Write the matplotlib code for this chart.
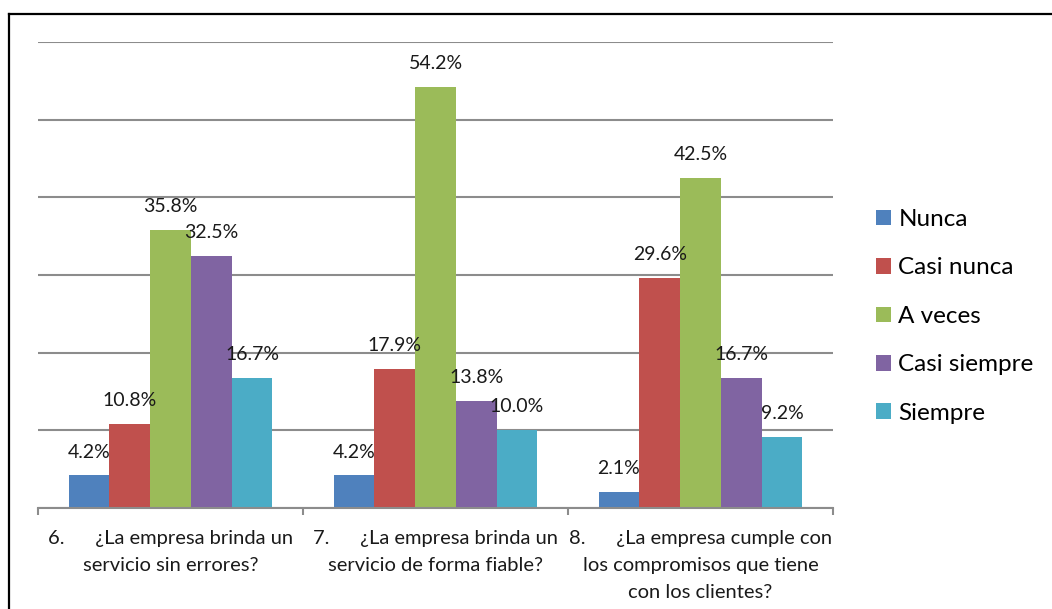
import matplotlib
matplotlib.use("Agg")
import matplotlib.pyplot as plt
import numpy as np
from matplotlib.lines import Line2D
from matplotlib.patches import Patch

plt.rcParams['font.family'] = ['Lato', 'DejaVu Sans']

categories = [
    "6.      ¿La empresa brinda un\nservicio sin errores?",
    "7.      ¿La empresa brinda un\nservicio de forma fiable?",
    "8.      ¿La empresa cumple con\nlos compromisos que tiene\ncon los clientes?",
]
series_names = ["Nunca", "Casi nunca", "A veces", "Casi siempre", "Siempre"]
nunca = [4.2, 4.2, 2.1]
casi_nunca = [10.8, 17.9, 29.6]
a_veces = [35.8, 54.2, 42.5]
casi_siempre = [32.5, 13.8, 16.7]
siempre = [16.7, 10.0, 9.2]
series_values = [nunca, casi_nunca, a_veces, casi_siempre, siempre]
colors = ["#4F81BD", "#C0504D", "#9BBB59", "#8064A2", "#4BACC6"]

fig = plt.figure(figsize=(10.52, 6.09), dpi=100)
ax = fig.add_axes([38 / 1052, 1 - 508 / 609, (833 - 38) / 1052, (508 - 42) / 609])

x = np.arange(len(categories))
n = len(series_names)
bar_w = 1 / (n + 1.5)
for i, (name, vals, col) in enumerate(zip(series_names, series_values, colors)):
    pos = x + (i - (n - 1) / 2) * bar_w
    ax.bar(pos, vals, width=bar_w, color=col, label=name, zorder=3)
    for xb, v in zip(pos, vals):
        ax.annotate(f"{v:.1f}%", (xb, v), xytext=(0, 16.8), textcoords="offset points",
                    ha="center", va="center", fontsize=14, color="#1a1a1a", zorder=4)

ax.set_xlim(-0.5, len(categories) - 0.5)
ax.set_ylim(0, 60)
ax.set_yticks(np.arange(0, 61, 10))
ax.yaxis.grid(True, color="#8c8c8c", linewidth=1.5, zorder=0)
ax.tick_params(axis="y", left=False, labelleft=False)
for s in ["top", "right", "left"]:
    ax.spines[s].set_visible(False)
ax.spines["bottom"].set_color("#8c8c8c")
ax.spines["bottom"].set_linewidth(1.5)
ax.spines["bottom"].set_zorder(5)

ax.set_xticks(x)
ax.set_xticklabels(categories, fontsize=14.5, linespacing=1.7, color="#1a1a1a")
ax.tick_params(axis="x", which="major", length=0, pad=16)
ax.set_xticks(np.arange(-0.5, len(categories), 1.0), minor=True)
ax.tick_params(axis="x", which="minor", length=5, width=1.5, color="#8c8c8c")

handles = [Patch(facecolor=c, edgecolor="none") for c in colors]
fig.legend(handles, series_names, loc="upper left", bbox_to_anchor=(876 / 1052, 1 - 209 / 609),
           frameon=False, fontsize=17.5, handlelength=0.62, handleheight=0.62,
           handletextpad=0.3, labelspacing=1.13, borderaxespad=0, borderpad=0)

# outer frame (left and top edges)
fig.add_artist(Line2D([9 / 1052, 9 / 1052], [0, 1 - 13.5 / 609], transform=fig.transFigure,
                      color="black", linewidth=1.6))
fig.add_artist(Line2D([9 / 1052, 1], [1 - 13.5 / 609, 1 - 13.5 / 609], transform=fig.transFigure,
                      color="black", linewidth=1.6))

fig.savefig("out.png", dpi=100)
